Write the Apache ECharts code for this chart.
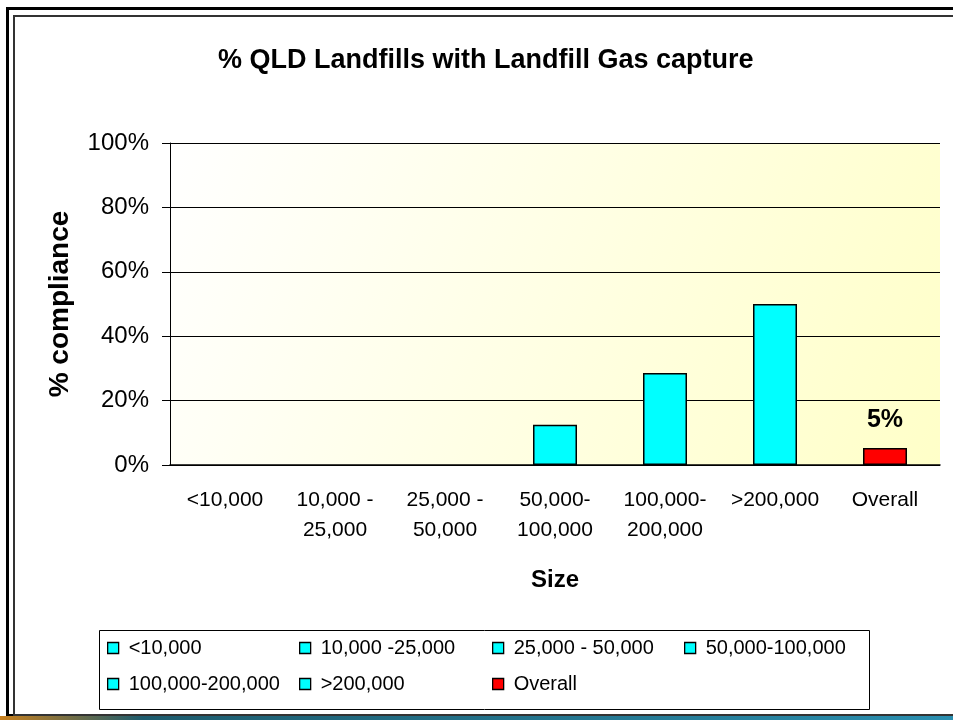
<!DOCTYPE html>
<html>
<head>
<meta charset="utf-8">
<title>% QLD Landfills with Landfill Gas capture</title>
<script src="https://cdn.jsdelivr.net/npm/echarts@6.0.0/dist/echarts.min.js"></script>
<style>
  html, body { margin: 0; padding: 0; background: #fff; }
  #chart { width: 953px; height: 720px; }
</style>
</head>
<body>
<div id="chart"></div>
<script>
// data
const categories = ['<10,000', '10,000 -\n25,000', '25,000 -\n50,000', '50,000-\n100,000', '100,000-\n200,000', '>200,000', 'Overall']
const seriesNames = ['<10,000', '10,000 -25,000', '25,000 - 50,000', '50,000-100,000', '100,000-200,000', '>200,000', 'Overall']
const values = [0, 0, 0, 12.5, 28.6, 50, 5.3]
const barColors = ['#00ffff', '#00ffff', '#00ffff', '#00ffff', '#00ffff', '#00ffff', '#ff0000']
const yTicks = [0, 20, 40, 60, 80, 100]

// legend cells, one legend per series so the columns line up
const legendPos = [
  [107, 638], [299, 638], [492, 638], [684, 638],
  [107, 674], [299, 674], [492, 674]
]

const font = "'Liberation Sans', Arial, sans-serif"

let series = seriesNames.map((name, i) => {
  return {
    name: name,
    type: 'bar',
    stack: 'size',
    barWidth: '40%',
    // zero bars are not drawn in the original
    data: values.map((v, j) => (j === i && v !== 0 ? v : '-')),
    itemStyle: { color: barColors[i], borderColor: '#000', borderWidth: 1.5 },
    label: {
      show: name === 'Overall',
      position: 'top',
      distance: 15,
      formatter: p => Math.round(p.value) + '%',
      fontFamily: font,
      fontWeight: 'bold',
      fontSize: 25,
      color: '#000'
    }
  }
})

let legends = seriesNames.map((name, i) => ({
  data: [name],
  left: legendPos[i][0],
  top: legendPos[i][1],
  padding: 0,
  itemWidth: 11,
  itemHeight: 11,
  icon: 'rect',
  itemStyle: { borderColor: '#000', borderWidth: 1.3 },
  textStyle: { fontFamily: font, fontSize: 20, color: '#000', padding: [0, 0, 0, 5] },
  selectedMode: false
}))

let myChart = echarts.init(document.getElementById('chart'))
myChart.setOption({
  backgroundColor: '#fff',
  animation: false,
  title: {
    text: '% QLD Landfills with Landfill Gas capture',
    left: 218,
    top: 47,
    padding: 0,
    textStyle: { fontFamily: font, fontWeight: 'bold', fontSize: 27, color: '#000' }
  },
  legend: legends,
  grid: {
    left: 170,
    right: 13,
    top: 143,
    bottom: 255,
    show: true,
    borderWidth: 0,
    backgroundColor: new echarts.graphic.LinearGradient(0, 0, 1, 1, [
      { offset: 0, color: '#ffffff' },
      { offset: 1, color: '#ffffc8' }
    ])
  },
  xAxis: {
    type: 'category',
    data: categories,
    name: 'Size',
    nameLocation: 'middle',
    nameGap: 103,
    nameTextStyle: { fontFamily: font, fontWeight: 'bold', fontSize: 24, color: '#000' },
    axisLine: { lineStyle: { color: '#000', width: 1.5 } },
    axisTick: { length: 7, lineStyle: { color: '#666', width: 1.5 } },
    axisLabel: { fontFamily: font, fontSize: 21, color: '#000', lineHeight: 30, margin: 20, interval: 0 }
  },
  yAxis: {
    type: 'value',
    min: yTicks[0],
    max: yTicks[yTicks.length - 1],
    interval: 20,
    name: '% compliance',
    nameLocation: 'middle',
    nameGap: 96,
    nameRotate: 90,
    nameTextStyle: { fontFamily: font, fontWeight: 'bold', fontSize: 28, color: '#000' },
    axisLine: { show: true, lineStyle: { color: '#000', width: 1 } },
    axisTick: { show: true, length: 8, lineStyle: { color: '#000' } },
    axisLabel: { fontFamily: font, fontSize: 24, color: '#000', margin: 21, formatter: '{value}%' },
    splitLine: { lineStyle: { color: '#000', width: 1 } }
  },
  series: series,
  graphic: [
    // slide frame
    { type: 'rect', shape: { x: 7.5, y: 8.5, width: 1000, height: 707 }, style: { fill: null, stroke: '#000', lineWidth: 3 }, z: 10 },
    { type: 'rect', shape: { x: 14, y: 16, width: 1000, height: 699 }, style: { fill: null, stroke: '#333', lineWidth: 2 }, z: 10 },
    {
      type: 'rect', shape: { x: 0, y: 716, width: 953, height: 4 }, z: 10,
      style: {
        fill: new echarts.graphic.LinearGradient(0, 0, 1, 0, [
          { offset: 0, color: '#c8801e' },
          { offset: 0.15, color: '#1d5c6e' },
          { offset: 1, color: '#2a8fb0' }
        ])
      }
    },
    // legend box
    { type: 'rect', shape: { x: 99.5, y: 630.5, width: 770, height: 79 }, style: { fill: '#fff', stroke: '#000', lineWidth: 1 }, z: -1 }
  ]
})
</script>
</body>
</html>
